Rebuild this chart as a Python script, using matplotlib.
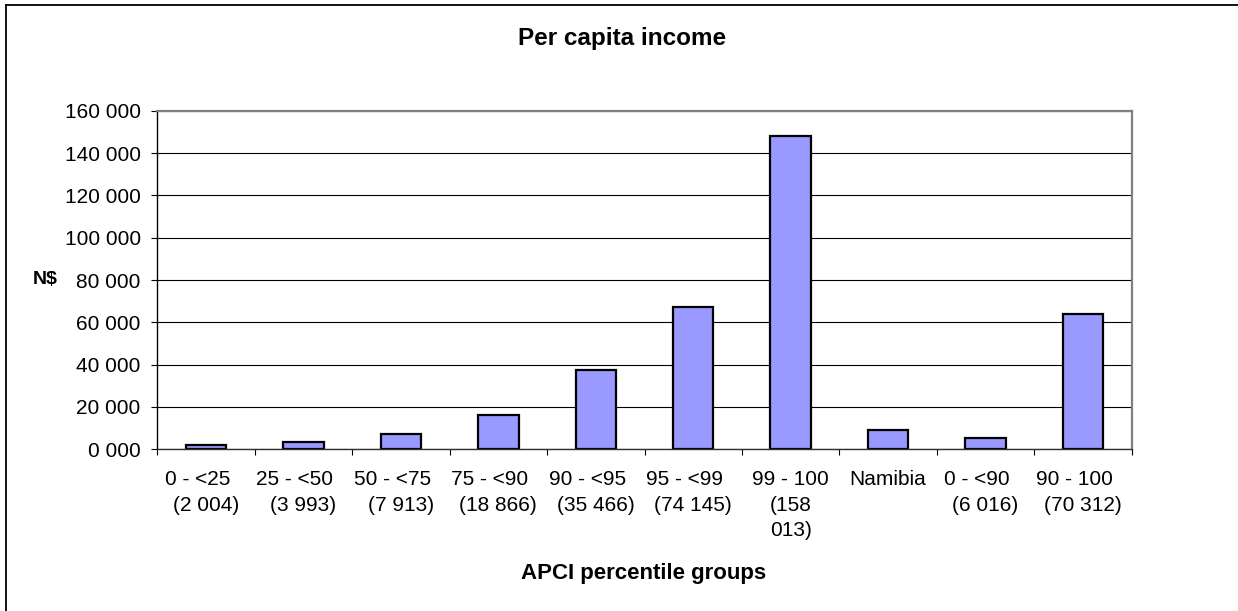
import matplotlib
matplotlib.use("Agg")
import matplotlib.pyplot as plt
from matplotlib.lines import Line2D
import numpy as np

plt.rcParams['font.family'] = ['Liberation Sans', 'DejaVu Sans']

groups_line1 = ["0 - <25", "25 - <50", "50 - <75", "75 - <90", "90 - <95",
                "95 - <99", "99 - 100", "Namibia", "0 - <90", "90 - 100"]
groups_line2 = ["(2 004)", "(3 993)", "(7 913)", "(18 866)", "(35 466)",
                "(74 145)", "(158\n013)", "", "(6 016)", "(70 312)"]
values = [1900, 3400, 7100, 16200, 37500, 67100, 148000, 9000, 5300, 63900]
yticks = [0, 20000, 40000, 60000, 80000, 100000, 120000, 140000, 160000]
ytick_labels = ["0 000", "20 000", "40 000", "60 000", "80 000",
                "100 000", "120 000", "140 000", "160 000"]

W, H = 1238, 611
fig = plt.figure(figsize=(W / 100, H / 100), dpi=100)
ax = fig.add_axes([157.3 / W, 1 - 449.3 / H, (1131.7 - 157.3) / W,
                   (449.3 - 110.7) / H])

x = np.arange(len(values))
ax.bar(x, values, width=0.415, color="#9999FF", edgecolor="black",
       linewidth=1.6, zorder=3)

ax.set_xlim(-0.5, len(values) - 0.5)
ax.set_ylim(0, 160000)
ax.set_yticks(yticks)
ax.set_yticklabels(ytick_labels, fontsize=15)
ax.yaxis.grid(True, color="black", linewidth=0.8, zorder=0)
ax.tick_params(axis="y", length=4.5, width=0.8, pad=7.5, direction="out")

# category boundary ticks on x axis
ax.set_xticks(np.arange(-0.5, len(values), 1.0))
ax.set_xticklabels([])
ax.tick_params(axis="x", length=4.5, width=0.8, direction="out")

labels = []
for a, b in zip(groups_line1, groups_line2):
    if b == "":
        labels.append(a)
    elif a.startswith("99"):
        labels.append(a + "\n" + b)
    else:
        labels.append(a + "   \n" + b)
for xi, lab in zip(x, labels):
    ax.text(xi, -0.062, lab, transform=ax.get_xaxis_transform(),
            ha="center", va="top", fontsize=15, linespacing=1.42,
            multialignment="center")

for s in ["top", "right"]:
    ax.spines[s].set_color("#808080")
    ax.spines[s].set_linewidth(1.6)
ax.spines["left"].set_color("black")
ax.spines["left"].set_linewidth(1.0)
ax.spines["bottom"].set_color("#303030")
ax.spines["bottom"].set_linewidth(1.0)
ax.spines["bottom"].set_zorder(4)

fig.text(622 / W, 1 - 38.5 / H, "Per capita income", ha="center",
         va="center", fontsize=17.5, fontweight="bold")
fig.text(44.7 / W, 1 - 280 / H, "N$", ha="center", va="center",
         fontsize=14, fontweight="bold")
fig.text(644 / W, 1 - 573 / H, "APCI percentile groups", ha="center",
         va="center", fontsize=16, fontweight="bold")

# outer chart frame
fig.add_artist(Line2D([6.3 / W, 6.3 / W], [0, 1 - 4.7 / H], color="black",
                      linewidth=1.3, transform=fig.transFigure))
fig.add_artist(Line2D([6.3 / W, 1], [1 - 4.7 / H, 1 - 4.7 / H],
                      color="black", linewidth=1.3,
                      transform=fig.transFigure))

fig.savefig("out.png", dpi=100)
